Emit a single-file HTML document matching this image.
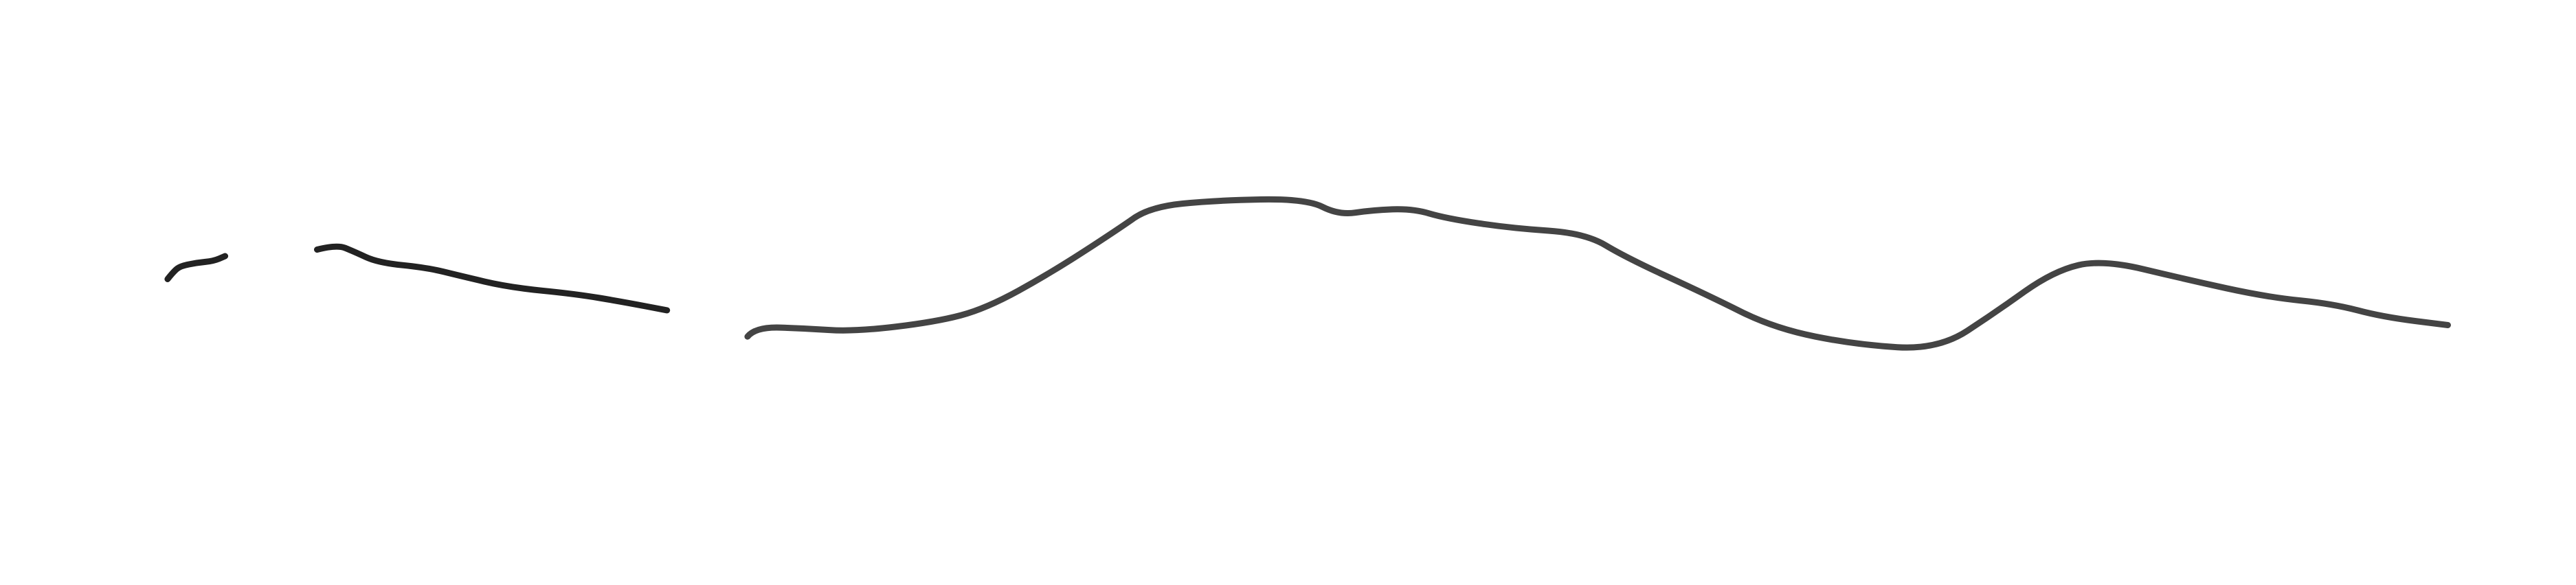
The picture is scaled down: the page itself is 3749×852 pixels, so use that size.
<!DOCTYPE html>
<html><head><meta charset="utf-8"><style>
html,body{margin:0;padding:0;background:#fff;width:3749px;height:852px;overflow:hidden}
svg{display:block}
</style></head><body>
<svg id="chart" width="3749" height="852" viewBox="0 0 3749 852" xmlns="http://www.w3.org/2000/svg">
<rect width="3749" height="852" fill="#fff"/>
<g id="lines"></g>
</svg>
<script>
const seg1X=[102,106,110,120,130,137];
const seg1Y=[170,165,162,160,159,156];
const seg2X=[193,205,215,230,260,280,310,350,380,406];
const seg2Y=[152,149,153,160,163,168,175,179,184,189];
const seg3X=[455,460,490,520,570,600,640,680,700,740,795,815,835,860,880,920,965,990,1040,1080,1130,1180,1215,1250,1280,1330,1380,1420,1450,1490];
const seg3Y=[205,199,200,202,196,188,166,140,126,122,121,131,128,127,133,139,142,157,180,200,210,213,190,165,158,170,181,185,193,198];
const sx=3749/1568, sy=852/356.3;
function xScale(v){return v*sx;}
function yScale(v){return v*sy;}
const g=document.getElementById('lines');
const segs=[[seg1X,seg1Y,'#222'],[seg2X,seg2Y,'#222'],[seg3X,seg3Y,'#444']];
segs.forEach((s,i)=>{
  const pts=s[0].map((x,j)=>[xScale(x),yScale(s[1][j])]);
  let d='M'+pts[0][0].toFixed(1)+','+pts[0][1].toFixed(1);
  for(let j=1;j<pts.length-1;j++){
    const mx=(pts[j][0]+pts[j+1][0])/2, my=(pts[j][1]+pts[j+1][1])/2;
    d+='Q'+pts[j][0].toFixed(1)+','+pts[j][1].toFixed(1)+' '+mx.toFixed(1)+','+my.toFixed(1);
  }
  const l=pts[pts.length-1];
  d+='L'+l[0].toFixed(1)+','+l[1].toFixed(1);
  const p=document.createElementNS('http://www.w3.org/2000/svg','path');
  p.setAttribute('d',d);
  p.setAttribute('fill','none');
  p.setAttribute('stroke',s[2]);
  p.setAttribute('stroke-width','9');
  p.setAttribute('stroke-linejoin','round');
  p.setAttribute('stroke-linecap','round');
  
  
  g.appendChild(p);
});
</script>
</body></html>
